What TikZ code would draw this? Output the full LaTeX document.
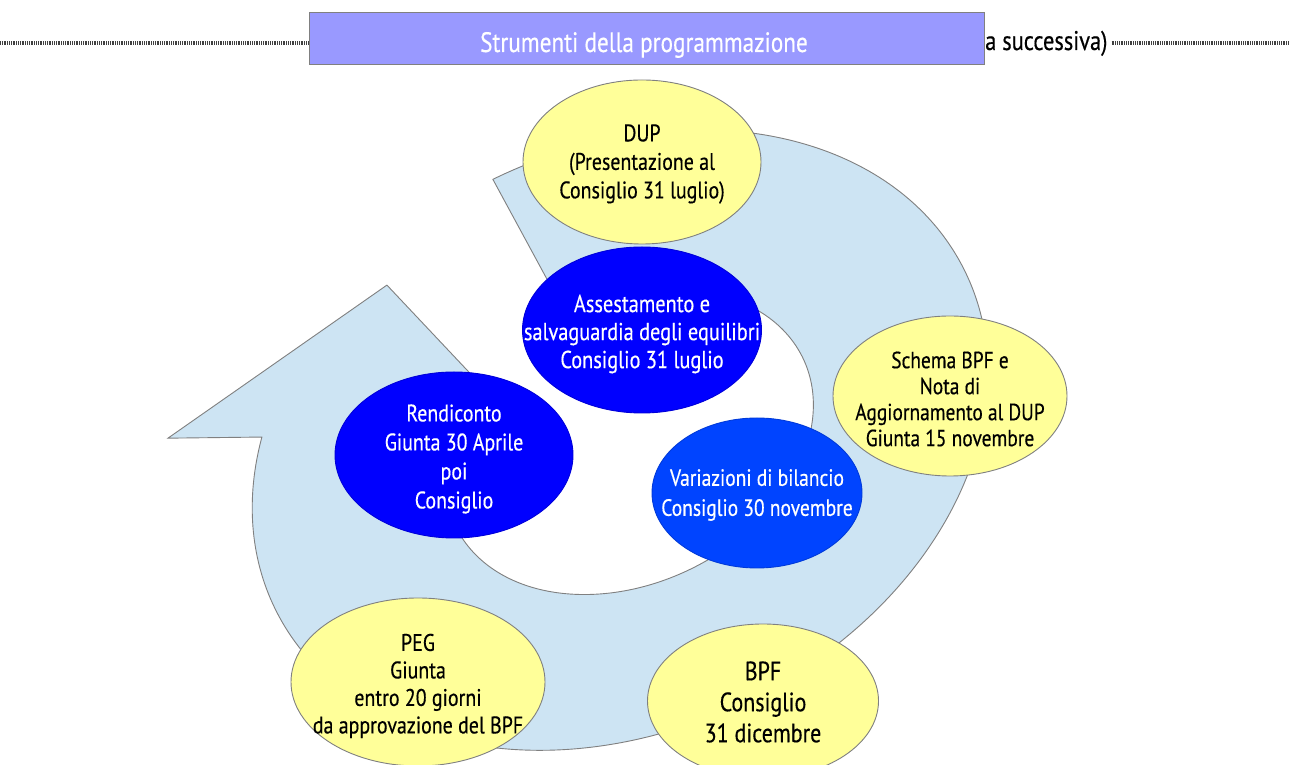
\documentclass[tikz,border=0pt]{standalone}
\usepackage{fontspec}
\setmainfont{PT Sans}[FakeStretch=0.83, FakeBold=0.4]
\usetikzlibrary{shapes.geometric}
\definecolor{ringblue}{RGB}{205,228,243}
\definecolor{edgegray}{RGB}{128,128,128}
\definecolor{ellyellow}{RGB}{255,255,153}
\definecolor{deepblue}{RGB}{0,0,255}
\definecolor{midblue}{RGB}{0,68,255}
\definecolor{barviolet}{RGB}{153,153,255}
\tikzset{
  ellbase/.style={ellipse, inner sep=0pt, line width=0.9pt},
  yell/.style={ellbase, fill=ellyellow, draw=edgegray},
  bluell/.style={ellbase, fill=deepblue, draw=deepblue!85!black},
  midell/.style={ellbase, fill=midblue, draw=midblue!85!black},
  blacktxt/.style={align=center, text=black, font=\fontsize{24}{28.5}\selectfont},
  whitetxt/.style={align=center, text=white, font=\fontsize{24}{28.5}\selectfont},
  ringstyle/.style={fill=ringblue, draw=edgegray, line width=0.9pt, line join=miter},
  dotline/.style={draw=black!75, line width=3.5pt, dash pattern=on 0.9pt off 0.9pt}
}
\begin{document}
\begin{tikzpicture}[x=1pt, y=1pt]
\useasboundingbox (0,0) rectangle (1290,765);
\fill[white] (0,0) rectangle (1290,765);

% header line with dotted leaders
\coordinate (dl0) at (0,722);
\coordinate (dl1) at (308,722);
\coordinate (dr1) at (1290,722);
\draw[dotline] (dl0) -- (dl1);
\node[anchor=base west, inner sep=0pt, font=\fontsize{27}{30}\selectfont] (succ) at (985,715) {a successiva)};
\coordinate (dr0) at ([xshift=4pt]succ.east |- dr1);
\draw[dotline] (dr0) -- (dr1);

% title bar
\node[draw=edgegray, line width=1pt, fill=barviolet, minimum width=675pt, minimum height=52pt,
      inner sep=0pt] (title) at (646.5,726) {};
\node[anchor=base, inner sep=0pt, text=white, font=\fontsize{28}{30}\selectfont] (titletxt) at (644,713) {Strumenti della programmazione};

% circular arrow
\begin{scope}[shift={(620,325)}, rotate=26]
  \path[ringstyle] (0,290)
    arc[start angle=90, end angle=-213.4, x radius=384, y radius=290]
    -- (-405.5,199.8) -- (-141.6,241.4) -- (-79.1,40.8) -- (-150.2,75.5)
    arc[start angle=144.7, end angle=450.2, x radius=193, y radius=141]
    -- cycle;
\end{scope}

% ellipses
\node[yell, minimum width=238pt, minimum height=164pt] (dup) at (642,603) {};
\node[blacktxt] (duptxt) at (642,601) {DUP\\(Presentazione al\\Consiglio 31 luglio)};

\node[bluell, minimum width=239pt, minimum height=166pt] (ass) at (642,435) {};
\node[whitetxt, font=\fontsize{24.5}{28}\selectfont] (asstxt) at (642,431) {Assestamento e\\salvaguardia degli equilibri\\Consiglio 31 luglio};

\node[bluell, minimum width=238pt, minimum height=166pt] (rend) at (454,310) {};
\node[whitetxt, font=\fontsize{24}{29}\selectfont] (rendtxt) at (454,306) {Rendiconto\\Giunta 30 Aprile\\poi\\Consiglio};

\node[midell, minimum width=210pt, minimum height=150pt] (var) at (757,272) {};
\node[whitetxt, font=\fontsize{23.5}{30}\selectfont] (vartxt) at (757,270) {Variazioni di bilancio\\Consiglio 30 novembre};

\node[yell, minimum width=234pt, minimum height=160pt] (schema) at (950,369) {};
\node[blacktxt, font=\fontsize{23.4}{26}\selectfont] (schematxt) at (950,366) {Schema BPF e\\Nota di\\Aggiornamento al DUP\\Giunta 15 novembre};

\node[yell, minimum width=254pt, minimum height=168pt] (peg) at (418,83) {};
\node[blacktxt, font=\fontsize{24}{27.5}\selectfont] (pegtxt) at (418,79) {PEG\\Giunta\\entro 20 giorni\\da approvazione del BPF};

\node[yell, minimum width=231pt, minimum height=154pt] (bpf) at (763,64) {};
\node[blacktxt, font=\fontsize{26.5}{31}\selectfont] (bpftxt) at (763,63) {BPF\\Consiglio\\31 dicembre};
\end{tikzpicture}
\end{document}
